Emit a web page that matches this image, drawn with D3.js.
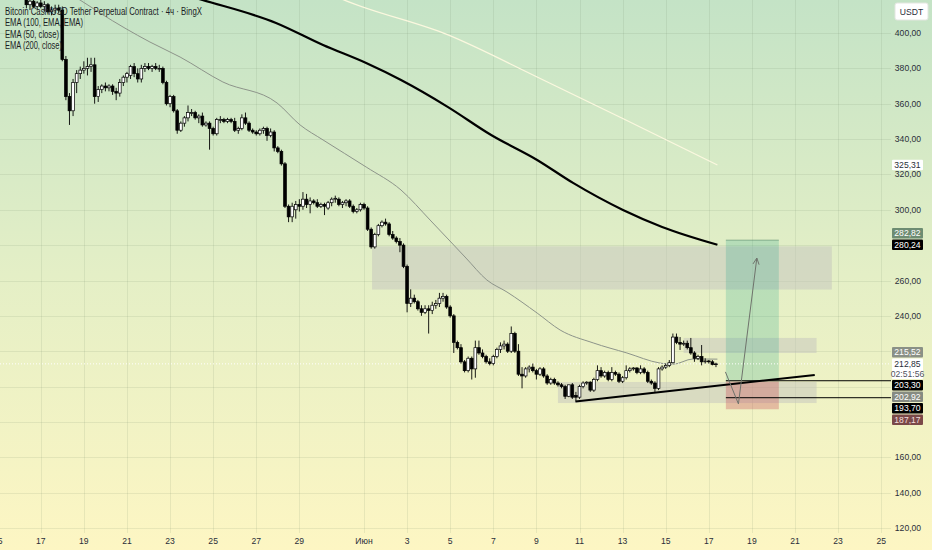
<!DOCTYPE html>
<html>
<head>
<meta charset="utf-8">
<script src="https://cdn.jsdelivr.net/npm/d3@7"></script>
<style>
  body { margin: 0; background: #fff; }
  svg { display: block; }
</style>
</head>
<body>
<section></section>
<script>
"use strict";

//Chart size and pane
const w = 932;
const h = 550;
const paneW = 891;
const paneH = 533;

//4h candles, first one opens 15 May 00:00
const startTime = Date.UTC(2025, 4, 15, 0);
const barHours = 4;

//[open, high, low, close]
const bars = [
  [432, 436, 428, 430], [430, 434, 426, 428], [428, 433, 425, 431], [431, 435, 427, 429],
  [429, 432, 424, 426], [426, 430, 422, 427], [427, 431, 423, 425], [425, 428, 420, 422],
  [422, 424, 414, 416], [416, 420, 413, 418], [418, 420, 414, 415], [415, 418, 413, 417],
  [417, 419, 414, 415], [415, 418, 412, 416], [416, 417, 411, 412], [412, 415, 410, 413],
  [413, 416, 411, 414], [414, 416, 411, 413], [413, 415, 384, 385], [385, 387, 362, 364],
  [364, 366, 348, 356], [356, 374, 353, 372], [372, 379, 366, 377], [377, 381, 374, 379],
  [379, 384, 377, 380], [380, 386, 376, 381], [381, 386, 378, 382], [382, 386, 360, 364],
  [364, 370, 361, 368], [368, 371, 366, 370], [370, 372, 367, 369], [369, 371, 367, 370],
  [370, 371, 365, 367], [367, 369, 362, 366], [366, 374, 364, 372], [372, 376, 370, 375],
  [375, 378, 372, 377], [376, 382, 374, 381], [381, 383, 375, 377], [377, 380, 372, 374],
  [374, 382, 372, 380], [380, 383, 378, 381], [381, 383, 379, 380], [380, 382, 378, 381],
  [381, 383, 379, 380], [380, 382, 378, 380], [380, 381, 371, 372], [372, 373, 359, 360],
  [360, 365, 358, 364], [364, 365, 355, 356], [356, 357, 343, 345], [345, 350, 344, 349],
  [349, 353, 347, 352], [352, 359, 350, 355], [355, 357, 353, 355], [355, 356, 351, 352],
  [352, 354, 349, 353], [353, 355, 347, 348], [348, 350, 347, 349], [349, 350, 334, 346],
  [346, 347, 342, 343], [343, 352, 342, 351], [351, 353, 349, 351], [351, 352, 349, 350],
  [350, 352, 349, 351], [351, 352, 349, 350], [350, 352, 344, 345], [345, 347, 343, 346],
  [346, 354, 345, 352], [352, 355, 348, 349], [349, 350, 344, 345], [345, 346, 343, 344],
  [344, 345, 342, 343], [343, 346, 342, 345], [345, 347, 343, 346], [346, 347, 339, 342],
  [342, 346, 341, 344], [344, 345, 333, 335], [335, 336, 332, 333], [333, 334, 325, 326],
  [326, 327, 301, 302], [302, 303, 293, 296], [296, 304, 293, 302], [300, 305, 295, 303],
  [303, 306, 299, 302], [302, 310, 300, 306], [306, 309, 301, 303], [303, 307, 298, 305],
  [305, 306, 303, 304], [304, 306, 301, 302], [302, 304, 301, 303], [303, 304, 297, 302],
  [301, 305, 300, 304], [304, 307, 302, 306], [306, 308, 304, 306.5], [306, 307, 302, 303],
  [303, 305, 301, 304], [304, 306, 302, 305], [305, 306, 301, 302], [302, 303, 298, 299],
  [299, 301, 298, 300], [300, 304, 299, 303], [303, 304, 300, 301], [301, 302, 288, 289],
  [289, 290, 278, 279], [279, 287, 278, 286], [286, 292, 285, 291], [291, 294, 290, 293],
  [293, 295, 291, 292], [292, 293, 285, 286], [286, 288, 283, 284], [284, 285, 281, 282],
  [282, 284, 276, 280], [280, 281, 267, 268], [268, 269, 242, 247], [247, 255, 245, 250],
  [250, 252, 247, 248], [248, 249, 243, 244], [244, 246, 240, 242], [242, 246, 241, 244],
  [244, 246, 230, 243], [243, 248, 241, 246], [246, 249, 244, 247], [247, 253, 245, 250],
  [250, 253, 248, 251], [251, 252, 244, 245], [245, 246, 239, 240], [240, 241, 219, 225],
  [225, 226, 221, 222], [222, 224, 213, 214], [214, 215, 208, 209], [209, 217, 208, 216],
  [216, 217, 204, 210], [210, 226, 205, 222], [222, 226, 218, 219], [219, 221, 216, 217],
  [217, 218, 213, 214], [214, 216, 212, 213], [213, 218, 212, 217], [217, 222, 216, 221],
  [221, 225, 219, 223], [223, 226, 221, 224], [224, 225, 219, 220], [220, 234, 219, 230],
  [230, 231, 219, 220], [220, 224, 206, 207], [207, 211, 199, 206], [206, 211, 205, 210],
  [210, 212, 208, 211], [211, 213, 208, 209], [209, 210, 204, 207], [207, 211, 206, 210],
  [210, 211, 205, 206], [206, 207, 201, 202], [202, 205, 201, 204], [204, 205, 201, 202],
  [202, 203, 200, 201], [201, 202, 199, 200], [200, 201, 193, 194.5], [194.5, 201, 194, 201],
  [201, 202, 193, 194], [195, 197, 191.6, 194], [194, 201, 193, 200], [200, 203, 199, 202],
  [202, 203, 201, 202.5], [202.5, 203, 197, 198], [198, 205, 197, 204], [204, 212, 203, 209],
  [209, 211, 205, 206], [206, 209, 205, 208], [208, 209, 203, 204], [204, 211, 203, 208],
  [208, 209, 206, 207], [207, 208, 202, 203], [203, 206, 202, 205], [205, 212, 204, 209],
  [209, 211, 208, 210], [210, 211, 209, 210.5], [210.5, 211, 207, 208], [208, 212, 207, 210],
  [210, 211, 207, 208], [208, 209, 202, 203], [203, 204, 201, 202], [202, 203, 197, 199],
  [199, 211, 198, 210], [210, 212, 209, 211], [211, 213, 210, 212], [212, 215, 211, 213.5],
  [213.5, 230, 213, 228], [228, 230, 224, 225], [225, 228, 220.7, 224], [224, 226, 223, 224.5],
  [224.5, 226, 221, 222], [222, 227.5, 218, 219], [219, 220, 214, 216], [216, 218, 215, 217],
  [217, 223.5, 212, 214], [214, 216, 213, 214.5], [214.5, 215, 213, 214], [214, 215, 212, 212.5],
  [212.5, 213.5, 211, 212.85],
];

//EMA lines as [bar index, price]
const ema100 = [
  [39.6, 429], [57, 418.7], [77.5, 405.7], [90.6, 393.2], [102.6, 383], [112.3, 373.4],
  [125.4, 358.1], [137.4, 342.3], [150.2, 328.2], [160.2, 315.2], [174.1, 299.9],
  [185, 290.3], [200.4, 280.24],
];
const ema50 = [
  [16, 426], [22.9, 418.7], [28.5, 411.3], [42.4, 394.9], [50.8, 386.4], [62.7, 372.3],
  [77.8, 360.4], [84.2, 348], [90.6, 339.5], [102.6, 324.2], [112.3, 311.2], [120.4, 294.2],
  [130.4, 272.7], [136.2, 260.3], [141.8, 253.5], [150.2, 241.6], [156.6, 232],
  [165.8, 224.7], [175.2, 219], [184.4, 213.3], [188, 212.6], [193.6, 215.6], [200.4, 215.52],
];
const ema200 = [
  [84.2, 430], [96.4, 418.7], [125.4, 398.9], [150.2, 375.1], [174.9, 350.8], [200.4, 325.31],
];

//Drawings: zones [from, to, top price, bottom price]
const zones = [
  ["2025-06-01T09:00Z", "2025-06-22T17:00Z", 279.3, 254.9],
  ["2025-06-15T20:00Z", "2025-06-22T00:00Z", 227.5, 219.0],
  ["2025-06-10T00:00Z", "2025-06-22T00:00Z", 202.6, 190.7],
];
const longStart = "2025-06-17T19:00Z";
const longEnd = "2025-06-20T06:00Z";
const longEntry = 202.92;
const longTarget = 282.82;
const longStop = 187.17;
const trendLine = [["2025-06-10T19:30Z", 191.5], ["2025-06-21T22:00Z", 206.6]];
const rayStart = "2025-06-17T19:00Z";
const rayPrices = [203.3, 193.7];
const arrowPath = [["2025-06-17T18:30Z", 208.3], ["2025-06-18T09:00Z", 190.2], ["2025-06-19T05:30Z", 272.7]];

//Axis labels
const priceTicks = [120, 140, 160, 180, 200, 220, 240, 260, 280, 300, 320, 340, 360, 380, 400];
const timeTicks = [
  "2025-05-15", "2025-05-17", "2025-05-19", "2025-05-21", "2025-05-23", "2025-05-25",
  "2025-05-27", "2025-05-29", "2025-06-01", "2025-06-03", "2025-06-05", "2025-06-07",
  "2025-06-09", "2025-06-11", "2025-06-13", "2025-06-15", "2025-06-17", "2025-06-19",
  "2025-06-21", "2025-06-23", "2025-06-25",
];
const lastPrice = 212.85;
const countdown = "02:51:56";
const seriesLabels = [325.31, 280.24, 215.52];
const drawingLabels = [282.82, 203.3, 202.92, 193.7, 187.17];
const legendLines = [
  "Bitcoin Cash/USD Tether Perpetual Contract · 4ч · BingX",
  "EMA (100, EMA, EMA)",
  "EMA (50, close)",
  "EMA (200, close)",
];

const font = "'Liberation Sans', Arial, sans-serif";
const barTime = (i) => new Date(startTime + i * barHours * 3600e3);
const fmt = (v) => d3.format(".2f")(v).replace(".", ",");

const xScale = d3
  .scaleUtc()
  .domain([new Date("2025-05-15T00:00Z"), new Date("2025-06-25T00:00Z")])
  .range([-2.35, 881.2]);
const yScale = d3.scaleLinear().domain([120, 400]).range([528, 33]);

const svg = d3.select("section").append("svg").attr("width", w).attr("height", h);

//Background gradient
const defs = svg.append("defs");
const grad = defs
  .append("linearGradient")
  .attr("id", "bg")
  .attr("x1", 0).attr("y1", 0).attr("x2", 0).attr("y2", 1);
grad.append("stop").attr("offset", "0%").attr("stop-color", "#c4e3c6");
grad.append("stop").attr("offset", "50%").attr("stop-color", "#e4efc6");
grad.append("stop").attr("offset", "100%").attr("stop-color", "#fdf6c3");
svg.append("rect").attr("width", w).attr("height", h).attr("fill", "url(#bg)");

defs.append("clipPath").attr("id", "pane").append("rect").attr("width", paneW).attr("height", paneH);

//Grid
const grid = svg.append("g").attr("stroke", "rgba(110,130,100,0.13)").attr("stroke-width", 1);
grid
  .selectAll("line.hg")
  .data(priceTicks)
  .enter()
  .append("line")
  .attr("x1", 0)
  .attr("x2", paneW)
  .attr("y1", (d) => Math.round(yScale(d)) + 0.5)
  .attr("y2", (d) => Math.round(yScale(d)) + 0.5);
grid
  .selectAll("line.vg")
  .data(timeTicks)
  .enter()
  .append("line")
  .attr("y1", 0)
  .attr("y2", paneH)
  .attr("x1", (d) => Math.round(xScale(new Date(d + "T00:00Z"))) + 0.5)
  .attr("x2", (d) => Math.round(xScale(new Date(d + "T00:00Z"))) + 0.5);

const pane = svg.append("g").attr("clip-path", "url(#pane)");

//Zones
pane
  .selectAll("rect.zone")
  .data(zones)
  .enter()
  .append("rect")
  .attr("x", (d) => xScale(new Date(d[0])))
  .attr("width", (d) => xScale(new Date(d[1])) - xScale(new Date(d[0])))
  .attr("y", (d) => yScale(d[2]))
  .attr("height", (d) => yScale(d[3]) - yScale(d[2]))
  .attr("fill", "rgba(195,195,190,0.5)");

//Long position tool
const lx0 = xScale(new Date(longStart));
const lx1 = xScale(new Date(longEnd));
pane
  .append("rect")
  .attr("x", lx0)
  .attr("width", lx1 - lx0)
  .attr("y", yScale(longTarget))
  .attr("height", yScale(longEntry) - yScale(longTarget))
  .attr("fill", "rgba(8,153,129,0.2)");
pane
  .append("rect")
  .attr("x", lx0)
  .attr("width", lx1 - lx0)
  .attr("y", yScale(longEntry))
  .attr("height", yScale(longStop) - yScale(longEntry))
  .attr("fill", "rgba(200,70,85,0.32)");
pane
  .append("line")
  .attr("x1", lx0)
  .attr("x2", lx1)
  .attr("y1", yScale(longTarget))
  .attr("y2", yScale(longTarget))
  .attr("stroke", "rgba(90,140,110,0.6)");

//EMA lines
const emaLine = d3
  .line()
  .x((d) => xScale(barTime(d[0])))
  .y((d) => yScale(d[1]))
  .curve(d3.curveMonotoneX);
pane.append("path").attr("d", emaLine(ema200)).attr("fill", "none").attr("stroke", "#fbf8df").attr("stroke-width", 1.3);
pane.append("path").attr("d", emaLine(ema50)).attr("fill", "none").attr("stroke", "#8d948a").attr("stroke-width", 1);
pane.append("path").attr("d", emaLine(ema100)).attr("fill", "none").attr("stroke", "#000").attr("stroke-width", 2.2);

//Last price dotted line
pane
  .append("line")
  .attr("x1", 0)
  .attr("x2", paneW)
  .attr("y1", yScale(lastPrice))
  .attr("y2", yScale(lastPrice))
  .attr("stroke", "#ffffff")
  .attr("stroke-dasharray", "1,2");

//Candles
const bodyW = 2.8;
const candles = pane
  .selectAll("g.candle")
  .data(bars)
  .enter()
  .append("g")
  .attr("transform", (d, i) => `translate(${xScale(barTime(i))},0)`);
candles
  .append("line")
  .attr("y1", (d) => yScale(d[1]))
  .attr("y2", (d) => yScale(d[2]))
  .attr("stroke", "#000")
  .attr("stroke-width", 0.9);
candles
  .append("rect")
  .attr("x", -bodyW / 2)
  .attr("width", bodyW)
  .attr("y", (d) => yScale(Math.max(d[0], d[3])))
  .attr("height", (d) => Math.max(0.8, Math.abs(yScale(d[0]) - yScale(d[3]))))
  .attr("fill", (d) => (d[3] >= d[0] ? "#ffffff" : "#000000"))
  .attr("stroke", "#000")
  .attr("stroke-width", 0.7);

//Trend line and horizontal rays
pane
  .append("line")
  .attr("x1", xScale(new Date(trendLine[0][0])))
  .attr("y1", yScale(trendLine[0][1]))
  .attr("x2", xScale(new Date(trendLine[1][0])))
  .attr("y2", yScale(trendLine[1][1]))
  .attr("stroke", "#000")
  .attr("stroke-width", 2);
pane
  .selectAll("line.ray")
  .data(rayPrices)
  .enter()
  .append("line")
  .attr("x1", xScale(new Date(rayStart)))
  .attr("x2", paneW)
  .attr("y1", (d) => yScale(d))
  .attr("y2", (d) => yScale(d))
  .attr("stroke", "#000")
  .attr("stroke-width", 1);

//Arrow path
const arrowPts = arrowPath.map((d) => [xScale(new Date(d[0])), yScale(d[1])]);
pane
  .append("path")
  .attr("d", d3.line()(arrowPts))
  .attr("fill", "none")
  .attr("stroke", "#6f736c")
  .attr("stroke-width", 1);
const tip = arrowPts[arrowPts.length - 1];
const prev = arrowPts[arrowPts.length - 2];
const ang = Math.atan2(tip[1] - prev[1], tip[0] - prev[0]);
const headLen = 7;
const head = [
  [tip[0] - headLen * Math.cos(ang - 0.45), tip[1] - headLen * Math.sin(ang - 0.45)],
  tip,
  [tip[0] - headLen * Math.cos(ang + 0.45), tip[1] - headLen * Math.sin(ang + 0.45)],
];
pane.append("path").attr("d", d3.line()(head)).attr("fill", "none").attr("stroke", "#6f736c").attr("stroke-width", 1);

//Legend
svg
  .append("g")
  .selectAll("text")
  .data(legendLines)
  .enter()
  .append("text")
  .attr("x", 5)
  .attr("y", (d, i) => 15 + i * 11.4)
  .attr("font-family", font)
  .attr("font-size", 11)
  .attr("fill", "#1a1d24")
  .attr("textLength", (d, i) => [197, 78, 54, 57][i])
  .attr("lengthAdjust", "spacingAndGlyphs")
  .text((d) => d);

//Price scale labels: last price stays, the others move out of the way
const hh = 5.25;
const gap = 1;
const seriesStyle = [
  { bg: "#ffffff", fg: "#2a2e39" },
  { bg: "#000000", fg: "#ffffff" },
  { bg: "#8a9086", fg: "#ffffff" },
];
const drawingStyle = [
  { bg: "#6d8c72", fg: "#ffffff" },
  { bg: "#000000", fg: "#ffffff" },
  { bg: "#868b82", fg: "#ffffff" },
  { bg: "#000000", fg: "#ffffff" },
  { bg: "#7a4949", fg: "#f4dede" },
];
const lastY = yScale(lastPrice);
const placed = [
  { price: lastPrice, top: lastY - hh, bottom: lastY + hh + 10, style: { bg: "#ffffff", fg: "#2a2e39" }, last: true },
];
const overlaps = (a, b) => a.top < b.bottom + gap && b.top < a.bottom + gap;
const placeLabel = (c) => {
  let box = { top: c - hh, bottom: c + hh };
  let hit = placed.find((p) => overlaps(box, p));
  if (!hit) return box;
  if (c < (hit.top + hit.bottom) / 2) {
    const up = { top: hit.top - gap - 2 * hh, bottom: hit.top - gap };
    if (!placed.some((p) => overlaps(up, p))) return up;
  }
  while (hit) {
    box = { top: hit.bottom + gap, bottom: hit.bottom + gap + 2 * hh };
    hit = placed.find((p) => overlaps(box, p));
  }
  return box;
};
seriesLabels.forEach((p, i) => {
  const box = placeLabel(yScale(p));
  placed.push({ price: p, top: box.top, bottom: box.bottom, style: seriesStyle[i] });
});
drawingLabels
  .map((p, i) => ({ p, i }))
  .sort((a, b) => b.p - a.p)
  .forEach(({ p, i }) => {
    const box = placeLabel(yScale(p));
    placed.push({ price: p, top: box.top, bottom: box.bottom, style: drawingStyle[i] });
  });

//Price tick labels (hidden where a label covers them)
const scaleG = svg.append("g").attr("font-family", font).attr("font-size", 8.6);
priceTicks
  .filter((t) => !placed.some((b) => yScale(t) + 3.5 > b.top && yScale(t) - 3.5 < b.bottom))
  .forEach((t) => {
    scaleG
      .append("text")
      .attr("x", 908)
      .attr("y", yScale(t) + 3)
      .attr("text-anchor", "middle")
      .attr("fill", "#2a2e39")
      .text(fmt(t));
  });

const labelG = svg.append("g").attr("font-family", font).attr("font-size", 8.6);
placed.forEach((b) => {
  labelG
    .append("rect")
    .attr("x", 892)
    .attr("y", b.top)
    .attr("width", 31)
    .attr("height", b.bottom - b.top)
    .attr("rx", 1)
    .attr("fill", b.style.bg);
  labelG
    .append("text")
    .attr("x", 907.5)
    .attr("y", b.top + hh + 3)
    .attr("text-anchor", "middle")
    .attr("fill", b.style.fg)
    .text(fmt(b.price));
  if (b.last) {
    labelG
      .append("text")
      .attr("x", 907.5)
      .attr("y", b.top + hh + 13)
      .attr("text-anchor", "middle")
      .attr("fill", "#50535e")
      .text(countdown);
  }
});

//Currency box
svg.append("rect").attr("x", 895).attr("y", 3).attr("width", 33).attr("height", 17).attr("rx", 2)
  .attr("fill", "#ffffff").attr("stroke", "#e3e6e0");
svg.append("text").attr("x", 911.5).attr("y", 14.5).attr("text-anchor", "middle")
  .attr("font-family", font).attr("font-size", 8.6).attr("fill", "#2a2e39").text("USDT");

//Time axis labels
svg
  .append("g")
  .attr("font-family", font)
  .attr("font-size", 8.6)
  .selectAll("text")
  .data(timeTicks)
  .enter()
  .append("text")
  .attr("x", (d) => xScale(new Date(d + "T00:00Z")))
  .attr("y", 544)
  .attr("text-anchor", "middle")
  .attr("fill", "#2a2e39")
  .text((d) => {
    const day = new Date(d + "T00:00Z").getUTCDate();
    return day === 1 ? "Июн" : String(day);
  });
</script>
</body>
</html>
